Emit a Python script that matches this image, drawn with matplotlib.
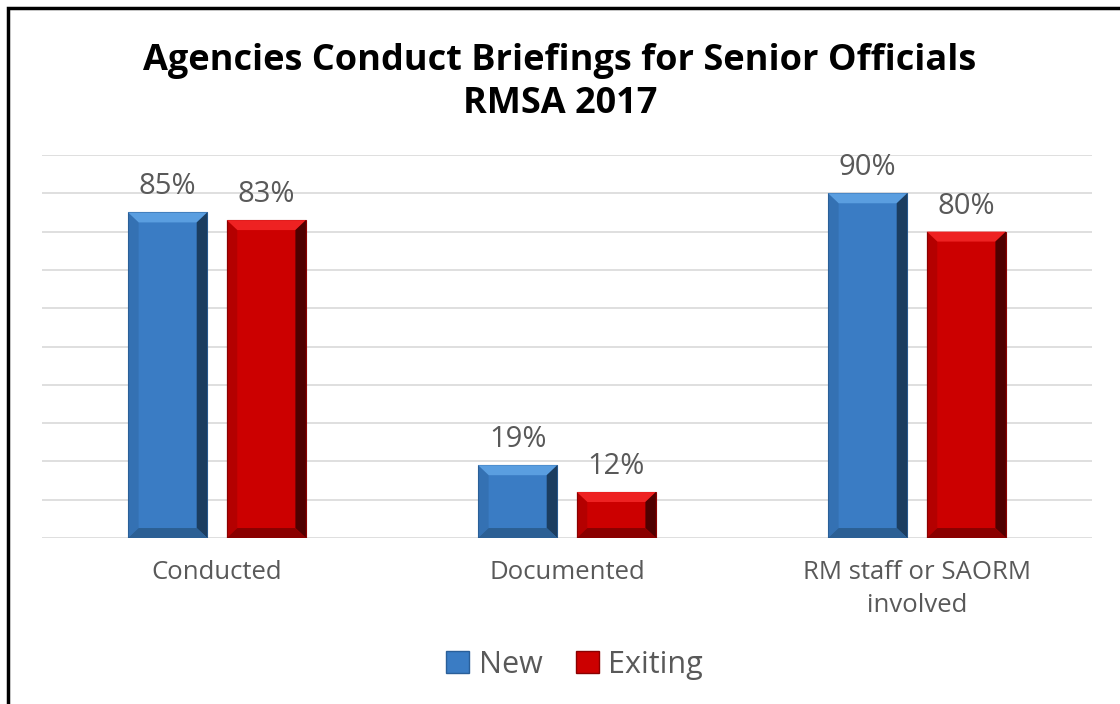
import numpy as np
import matplotlib.pyplot as plt
from matplotlib.patches import Polygon, Patch, Rectangle

categories = ['Conducted', 'Documented', 'RM staff or SAORM\ninvolved']
new_vals = [85, 19, 90]
exiting_vals = [83, 12, 80]
series_names = ['New', 'Exiting']

blue = '#3a7cc4'
red = '#cc0000'
grey = '#595959'

fig = plt.figure(figsize=(11.2, 7.04), dpi=100)
ax = fig.add_axes([0.0375, 0.2358, 0.9375, 0.544])

x = np.arange(len(categories))
w = 0.226
off = 0.141
b1 = ax.bar(x - off, new_vals, w, color=blue, edgecolor='#2a5f99', linewidth=0.8, zorder=3)
b2 = ax.bar(x + off, exiting_vals, w, color=red, edgecolor='#8a0000', linewidth=0.8, zorder=3)


def bevel(bars, light, dark, darker):
    # fake the excel bevel with a few trapezoids
    dx, dy = 0.03, 2.6
    for p in bars:
        x0, x1 = p.get_x(), p.get_x() + p.get_width()
        h = p.get_height()
        e = min(dy, h / 3)
        ax.add_patch(Polygon([(x0, h), (x1, h), (x1 - dx, h - e), (x0 + dx, h - e)],
                             closed=True, color=light, zorder=4, lw=0))
        ax.add_patch(Polygon([(x1, h), (x1, 0), (x1 - dx, e), (x1 - dx, h - e)],
                             closed=True, color=darker, zorder=4, lw=0))
        ax.add_patch(Polygon([(x0, 0), (x1, 0), (x1 - dx, e), (x0 + dx, e)],
                             closed=True, color=dark, zorder=4, lw=0))
        ax.add_patch(Polygon([(x0, h), (x0, 0), (x0 + dx, e), (x0 + dx, h - e)],
                             closed=True, color=dark, alpha=0.35, zorder=4, lw=0))


bevel(b1, '#5a9ee0', '#2b5f94', '#1b3d60')
bevel(b2, '#ee2222', '#8a0000', '#500000')

for bars, vals in ((b1, new_vals), (b2, exiting_vals)):
    for p, v in zip(bars, vals):
        ax.annotate(f'{v}%', (p.get_x() + p.get_width() / 2, v), xytext=(0, 13),
                    textcoords='offset points', ha='center', va='baseline',
                    fontsize=21, color=grey, family='Open Sans')

ax.set_xlim(-0.5, 2.5)
ax.set_ylim(0, 100)
ax.set_yticks(np.arange(0, 101, 10))
ax.yaxis.grid(True, color='#d9d9d9', lw=1.2, zorder=0)
ax.tick_params(left=False, labelleft=False, bottom=False)
ax.set_xticks(x)
ax.set_xticklabels(categories, fontsize=18.5, color=grey, family='Open Sans', linespacing=1.45, va='top')
ax.tick_params(axis='x', pad=12)
for s in ax.spines.values():
    s.set_visible(False)

fig.text(0.5, 0.913, 'Agencies Conduct Briefings for Senior Officials',
         ha='center', va='center', fontsize=26, fontweight='bold', family='Open Sans')
fig.text(0.5, 0.852, 'RMSA 2017',
         ha='center', va='center', fontsize=26, fontweight='bold', family='Open Sans')

handles = [Patch(facecolor=blue, edgecolor='#2a5f99'), Patch(facecolor=red, edgecolor='#8a0000')]
fig.legend(handles, series_names, loc='center', bbox_to_anchor=(0.513, 0.056), ncol=2,
           frameon=False, prop={'family': 'Open Sans', 'size': 22}, labelcolor=grey,
           handlelength=0.75, handleheight=0.75, handletextpad=0.3, columnspacing=1.1)

fig.patches.append(Rectangle((0.007, -0.05), 1.2, 1.039, transform=fig.transFigure,
                             fill=False, edgecolor='black', lw=2.5))

fig.savefig('out.png', dpi=100)
